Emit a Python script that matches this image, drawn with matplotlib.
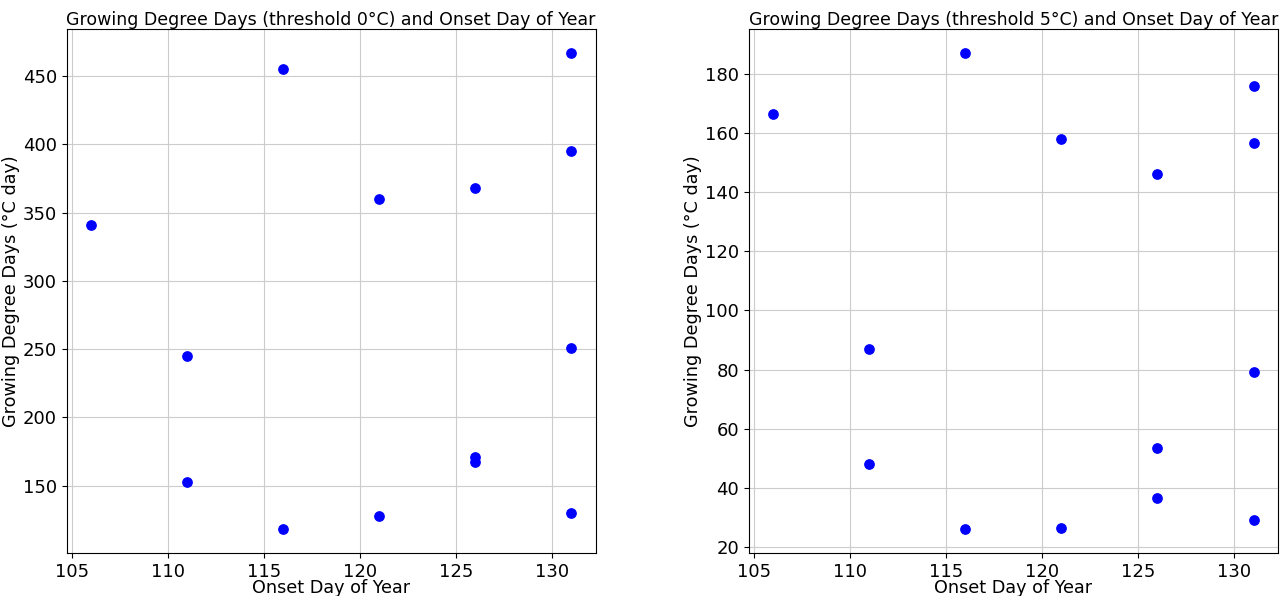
import numpy as np
import matplotlib
matplotlib.use('Agg')
import matplotlib.pyplot as plt

# Onset day of year and growing degree days
onset_doy = [106, 111, 111, 116, 116, 121, 121, 126, 126, 126, 131, 131, 131, 131]
gdd_0 = [341, 245, 153, 455, 118, 360, 128, 368, 171, 167, 467, 395, 251, 130]
gdd_5 = [166.5, 87, 48, 187, 26, 158, 26.5, 146, 53.5, 36.5, 176, 156.5, 79, 29]

plt.rcParams['font.size'] = 13

fig, axes = plt.subplots(1, 2, figsize=(12.84, 5.96), dpi=100)
fig.subplots_adjust(left=0.052, right=0.995, top=0.951, bottom=0.072, wspace=0.29)

for ax, gdd, thr in [(axes[0], gdd_0, 0), (axes[1], gdd_5, 5)]:
    ax.scatter(onset_doy, gdd, color='blue', s=45, zorder=3)
    ax.set_title(f'Growing Degree Days (threshold {thr}°C) and Onset Day of Year', fontsize=12.5, pad=3)
    ax.set_xlabel('Onset Day of Year', fontsize=12.7, labelpad=-1)
    ax.set_ylabel('Growing Degree Days (°C day)', fontsize=12.7, labelpad=2)
    ax.grid(True, color='#cccccc')
    ax.set_axisbelow(True)
    ax.set_xticks([105, 110, 115, 120, 125, 130])

fig.savefig('out.png', dpi=100)
